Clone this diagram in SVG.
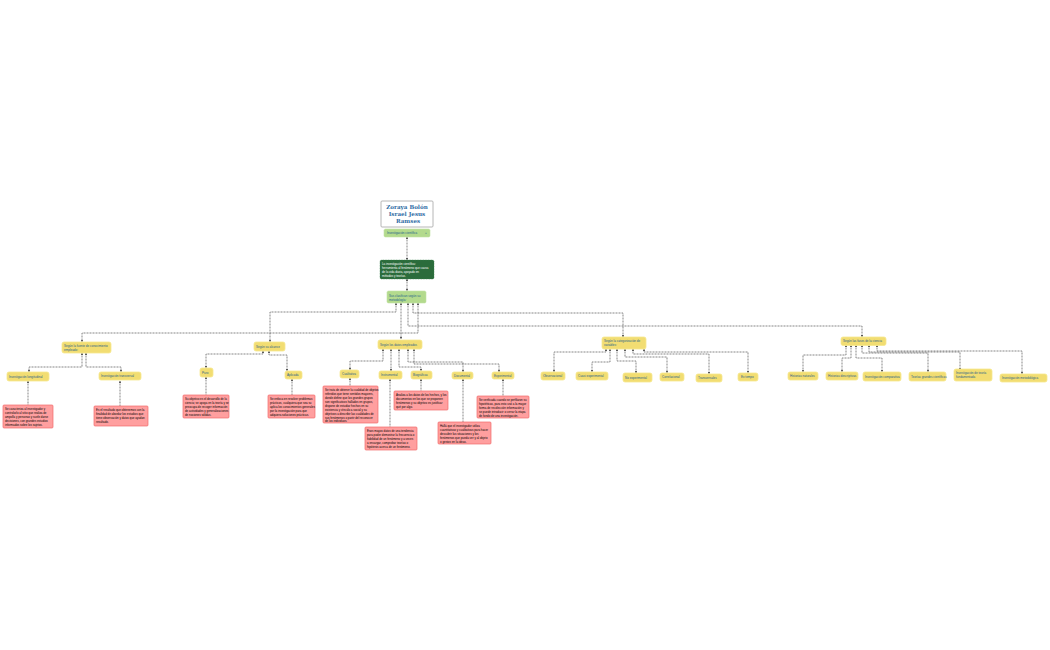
<svg xmlns="http://www.w3.org/2000/svg" width="1050" height="650" viewBox="0 0 1050 650">
<style>
text{font-family:"Liberation Sans",Arial,sans-serif;font-size:3px}
.y rect{fill:#f2dd72;stroke:#f6e88f;stroke-width:.8}
.y text,.g text{fill:#1f5f8c}
.g rect{fill:#b3da8d;stroke:#c3e3a5;stroke-width:.6}
.r rect{fill:#ff9f9f;stroke:#f06a6a;stroke-width:.7}
.r text{fill:#000;font-size:2.9px}
.d rect{fill:#2b6c3b;stroke:#3f8450;stroke-width:.5;stroke-dasharray:1 .6}
.d text{fill:#fff;font-size:2.9px}
.t rect{fill:#fff;stroke:#a3a3a3;stroke-width:.8}
.t text{font-family:"DejaVu Serif","Liberation Serif",serif;font-weight:bold;font-size:5.6px;fill:#2f6ea5;text-anchor:middle}
#c path{fill:none;stroke:#555;stroke-width:.7;stroke-dasharray:1 .5;marker-start:url(#a);marker-end:url(#a)}
#c path.u{marker-end:none}
</style>
<defs><marker id="a" markerUnits="userSpaceOnUse" markerWidth="3" markerHeight="3" refX="2.4" refY="1.2" orient="auto-start-reverse"><path d="M0 0L2.4 1.2L0 2.4z" fill="#333"/></marker></defs>
<rect width="1050" height="650" fill="#fff"/>
<g id="c">
<path d="M407 237V260"/><path d="M407 279V291"/>
<path d="M396 303V312H270V342"/><path d="M401 303V339"/><path d="M408 303V326H862V337"/><path d="M413 303V313H623V337"/><path d="M418 303V333H82V342"/>
<path d="M82 353V367H29V372"/><path d="M86 353V367H121V372"/>
<path class="u" d="M28 381V405"/><path class="u" d="M120 381V406"/>
<path d="M263 351V354H206V368"/><path d="M269 351V355H287V371"/>
<path class="u" d="M206 377V395"/><path class="u" d="M292 379V395"/>
<path d="M383 349V361H350V370"/><path d="M391 349V371"/><path d="M399 349V367H421V371"/><path d="M408 349V362H463V372"/><path d="M414 349V364H499V372"/>
<path class="u" d="M350 378V386"/><path class="u" d="M390 379V427"/><path class="u" d="M421 379V391"/><path class="u" d="M463 379V422"/><path class="u" d="M503 379V396"/>
<path d="M606 349V352H554V372"/><path d="M610 349V362H592V372"/><path d="M617 349V361H636V373"/><path d="M625 349V357H667V373"/><path d="M633 349V354H709V374"/><path d="M644 349V352H748V373"/>
<path d="M846 345V355H803V372"/><path d="M851 345V358H842V372"/><path d="M856 345V358H882V372"/><path d="M862 345V353H928V372"/><path d="M869 345V352H960V370"/><path d="M877 345V351H1022V374"/>
</g>
<g id="n1" class="t"><rect x="381" y="201" width="52" height="26" rx="1"/><text x="407" y="208.500">Zoraya Bolón</text><text x="407" y="215.500">Israel Jesus</text><text x="408" y="222.500">Ramses</text></g>
<g id="n2" class="g"><rect x="384" y="229" width="46" height="8" rx="1.500"/><text x="387" y="234">Investigación científica</text><text x="425" y="234">+</text></g>
<g id="n3" class="d"><rect x="380" y="260" width="54" height="19" rx="1.500"/><text x="382" y="264.500">La investigación científica:</text><text x="382" y="268.500">herramienta al fenómeno que causa</text><text x="382" y="272.500">de la vida diaria, apoyado en</text><text x="382" y="276.500">métodos y teorías.</text></g>
<g id="n4" class="g"><rect x="387" y="291" width="39" height="12" rx="1.500"/><text x="389" y="296.500">Sus clasifican según su</text><text x="389" y="300.500">metodología:</text></g>
<g id="n5" class="y"><rect x="62" y="342" width="49" height="11" rx="2"/><text x="64" y="346.800">Según la fuente de conocimiento</text><text x="64" y="350.800">empleado:</text></g>
<g id="n6" class="y"><rect x="7" y="372" width="42" height="9" rx="2"/><text x="9" y="377.500">Investigación longitudinal</text></g>
<g id="n7" class="y"><rect x="99" y="372" width="42" height="8" rx="2"/><text x="101" y="377">Investigación transversal</text></g>
<g id="n8" class="r"><rect x="3" y="405" width="50" height="23" rx="1"/><text x="5" y="409.500">Se caracteriza al investigador y</text><text x="5" y="413.500">controlarlo al sitio que realiza de</text><text x="5" y="417.500">ampolla y personas y suele darse</text><text x="5" y="421.500">decisiones, con grandes estudios</text><text x="5" y="425.500">informados sobre los sujetos.</text></g>
<g id="n9" class="r"><rect x="94" y="406" width="54" height="20" rx="1"/><text x="96" y="410.500">Es el resultado que obtenemos con la</text><text x="96" y="414.500">finalidad de abordar los estudios que</text><text x="96" y="418.500">tiene observación y datos que ayudan</text><text x="96" y="422.500">resultado.</text></g>
<g id="n10" class="y"><rect x="254" y="342" width="31" height="9" rx="2"/><text x="256" y="347.500">Según su alcance</text></g>
<g id="n11" class="y"><rect x="200" y="368" width="13" height="9" rx="2"/><text x="202" y="373.500">Puro</text></g>
<g id="n12" class="y"><rect x="285" y="371" width="17" height="8" rx="2"/><text x="287" y="376">Aplicada</text></g>
<g id="n13" class="r"><rect x="183" y="395" width="46" height="23" rx="1"/><text x="185" y="400">Su objetivo es el desarrollo de la</text><text x="185" y="404">ciencia; se apoya en la teoría y se</text><text x="185" y="408">preocupa de recoger información</text><text x="185" y="412">de actividades y generalizaciones</text><text x="185" y="416">de nociones sólidas.</text></g>
<g id="n14" class="r"><rect x="268" y="395" width="47" height="23" rx="1"/><text x="270" y="400">Se enfoca en resolver problemas</text><text x="270" y="404">prácticos, cualquiera que sea su</text><text x="270" y="408">aplica los conocimientos generales</text><text x="270" y="412">por la investigación para que</text><text x="270" y="416">adquiera soluciones prácticas.</text></g>
<g id="n15" class="y"><rect x="378" y="340" width="44" height="9" rx="2"/><text x="380" y="345.500">Según los datos empleados</text></g>
<g id="n16" class="y"><rect x="340" y="370" width="19" height="8" rx="2"/><text x="342" y="375">Cualitativa</text></g>
<g id="n17" class="y"><rect x="379" y="371" width="23" height="8" rx="2"/><text x="381" y="376">Instrumental</text></g>
<g id="n18" class="y"><rect x="411" y="371" width="21" height="8" rx="2"/><text x="413" y="376">Biográficas</text></g>
<g id="n19" class="y"><rect x="452" y="372" width="21" height="7" rx="2"/><text x="454" y="376.800">Documental</text></g>
<g id="n20" class="y"><rect x="492" y="372" width="22" height="7" rx="2"/><text x="494" y="376.800">Experimental</text></g>
<g id="n21" class="r"><rect x="323" y="386" width="55" height="37" rx="1"/><text x="325" y="390.500">Se trata de obtener la cualidad de objetos</text><text x="325" y="394.500">referidos que tiene sentidos mayores,</text><text x="325" y="398.500">donde define que los grandes grupos</text><text x="325" y="402.500">son significativos hallados en grupos,</text><text x="325" y="406.500">dispone de estudiar hechos en su</text><text x="325" y="410.500">existencia y vínculo a social y su</text><text x="325" y="414.500">objetivos a describir las cualidades de</text><text x="325" y="418.500">sus fenómenos o partir del reconocer</text><text x="325" y="422">de los individuos.</text></g>
<g id="n22" class="r"><rect x="365" y="427" width="52" height="23" rx="1"/><text x="367" y="432">Esos mayos datos de una tendencia</text><text x="367" y="436">para poder demostrar la frecuencia o</text><text x="367" y="440">fiabilidad de un fenómeno y a veces</text><text x="367" y="444">a encargar, comprobar teorías o</text><text x="367" y="448">hipótesis acerca de un fenómeno.</text></g>
<g id="n23" class="r"><rect x="394" y="391" width="54" height="19" rx="1"/><text x="396" y="396">Analiza a los datos de los hechos, y los</text><text x="396" y="400">documentos en los que se proponen</text><text x="396" y="404">fenómenos y su objetivo es justificar</text><text x="396" y="408">qué por algo.</text></g>
<g id="n24" class="r"><rect x="438" y="422" width="53" height="22" rx="1"/><text x="440" y="427">Hallá que el investigador utiliza</text><text x="440" y="431">cuantitativas y cualitativas para hacer</text><text x="440" y="435">descubrir las situaciones y los</text><text x="440" y="439">fenómenos que pueda ver y al objeto</text><text x="440" y="443">o gestos en la ideas.</text></g>
<g id="n25" class="r"><rect x="477" y="396" width="52" height="22" rx="1"/><text x="479" y="401">Se verificada cuando se perfilaron su</text><text x="479" y="405">hipotéticas, para esto usó a la mayor</text><text x="479" y="409">forma de recolección información y</text><text x="479" y="413">se puede introducir o cerrar la etapa</text><text x="479" y="417">de fondo de una investigación.</text></g>
<g id="n26" class="y"><rect x="602" y="337" width="44" height="12" rx="2"/><text x="604" y="341.800">Según la categorización de</text><text x="604" y="346">variables:</text></g>
<g id="n27" class="y"><rect x="541" y="372" width="24" height="8" rx="2"/><text x="543" y="377">Observacional</text></g>
<g id="n28" class="y"><rect x="576" y="372" width="32" height="8" rx="2"/><text x="578" y="377">Cuasi experimental</text></g>
<g id="n29" class="y"><rect x="623" y="373" width="29" height="9" rx="2"/><text x="625" y="378.500">No experimental</text></g>
<g id="n30" class="y"><rect x="660" y="373" width="24" height="8" rx="2"/><text x="662" y="378">Correlacional</text></g>
<g id="n31" class="y"><rect x="696" y="374" width="26" height="8" rx="2"/><text x="698" y="379">Transversales</text></g>
<g id="n32" class="y"><rect x="738" y="373" width="20" height="8" rx="2"/><text x="741" y="378">Ex tempo</text></g>
<g id="n33" class="y"><rect x="841" y="337" width="45" height="8.500" rx="2"/><text x="843" y="342.300">Según las fases de la ciencia</text></g>
<g id="n34" class="y"><rect x="788" y="372" width="30" height="8" rx="2"/><text x="790" y="377">Historias naturales</text></g>
<g id="n35" class="y"><rect x="826" y="372" width="32" height="8" rx="2"/><text x="828" y="377">Historias descriptivas</text></g>
<g id="n36" class="y"><rect x="863" y="372" width="38" height="9" rx="2"/><text x="865" y="377.500">Investigación comparativa</text></g>
<g id="n37" class="y"><rect x="909" y="372" width="37" height="9" rx="2"/><text x="911" y="377.500">Teorías grandes científicas</text></g>
<g id="n38" class="y"><rect x="954" y="369" width="38" height="12" rx="2"/><text x="956" y="374">Investigación de teoría</text><text x="956" y="378">fundamentada</text></g>
<g id="n39" class="y"><rect x="1000" y="374" width="47" height="8" rx="2"/><text x="1002" y="379">Investigación metodológica</text></g>
</svg>
